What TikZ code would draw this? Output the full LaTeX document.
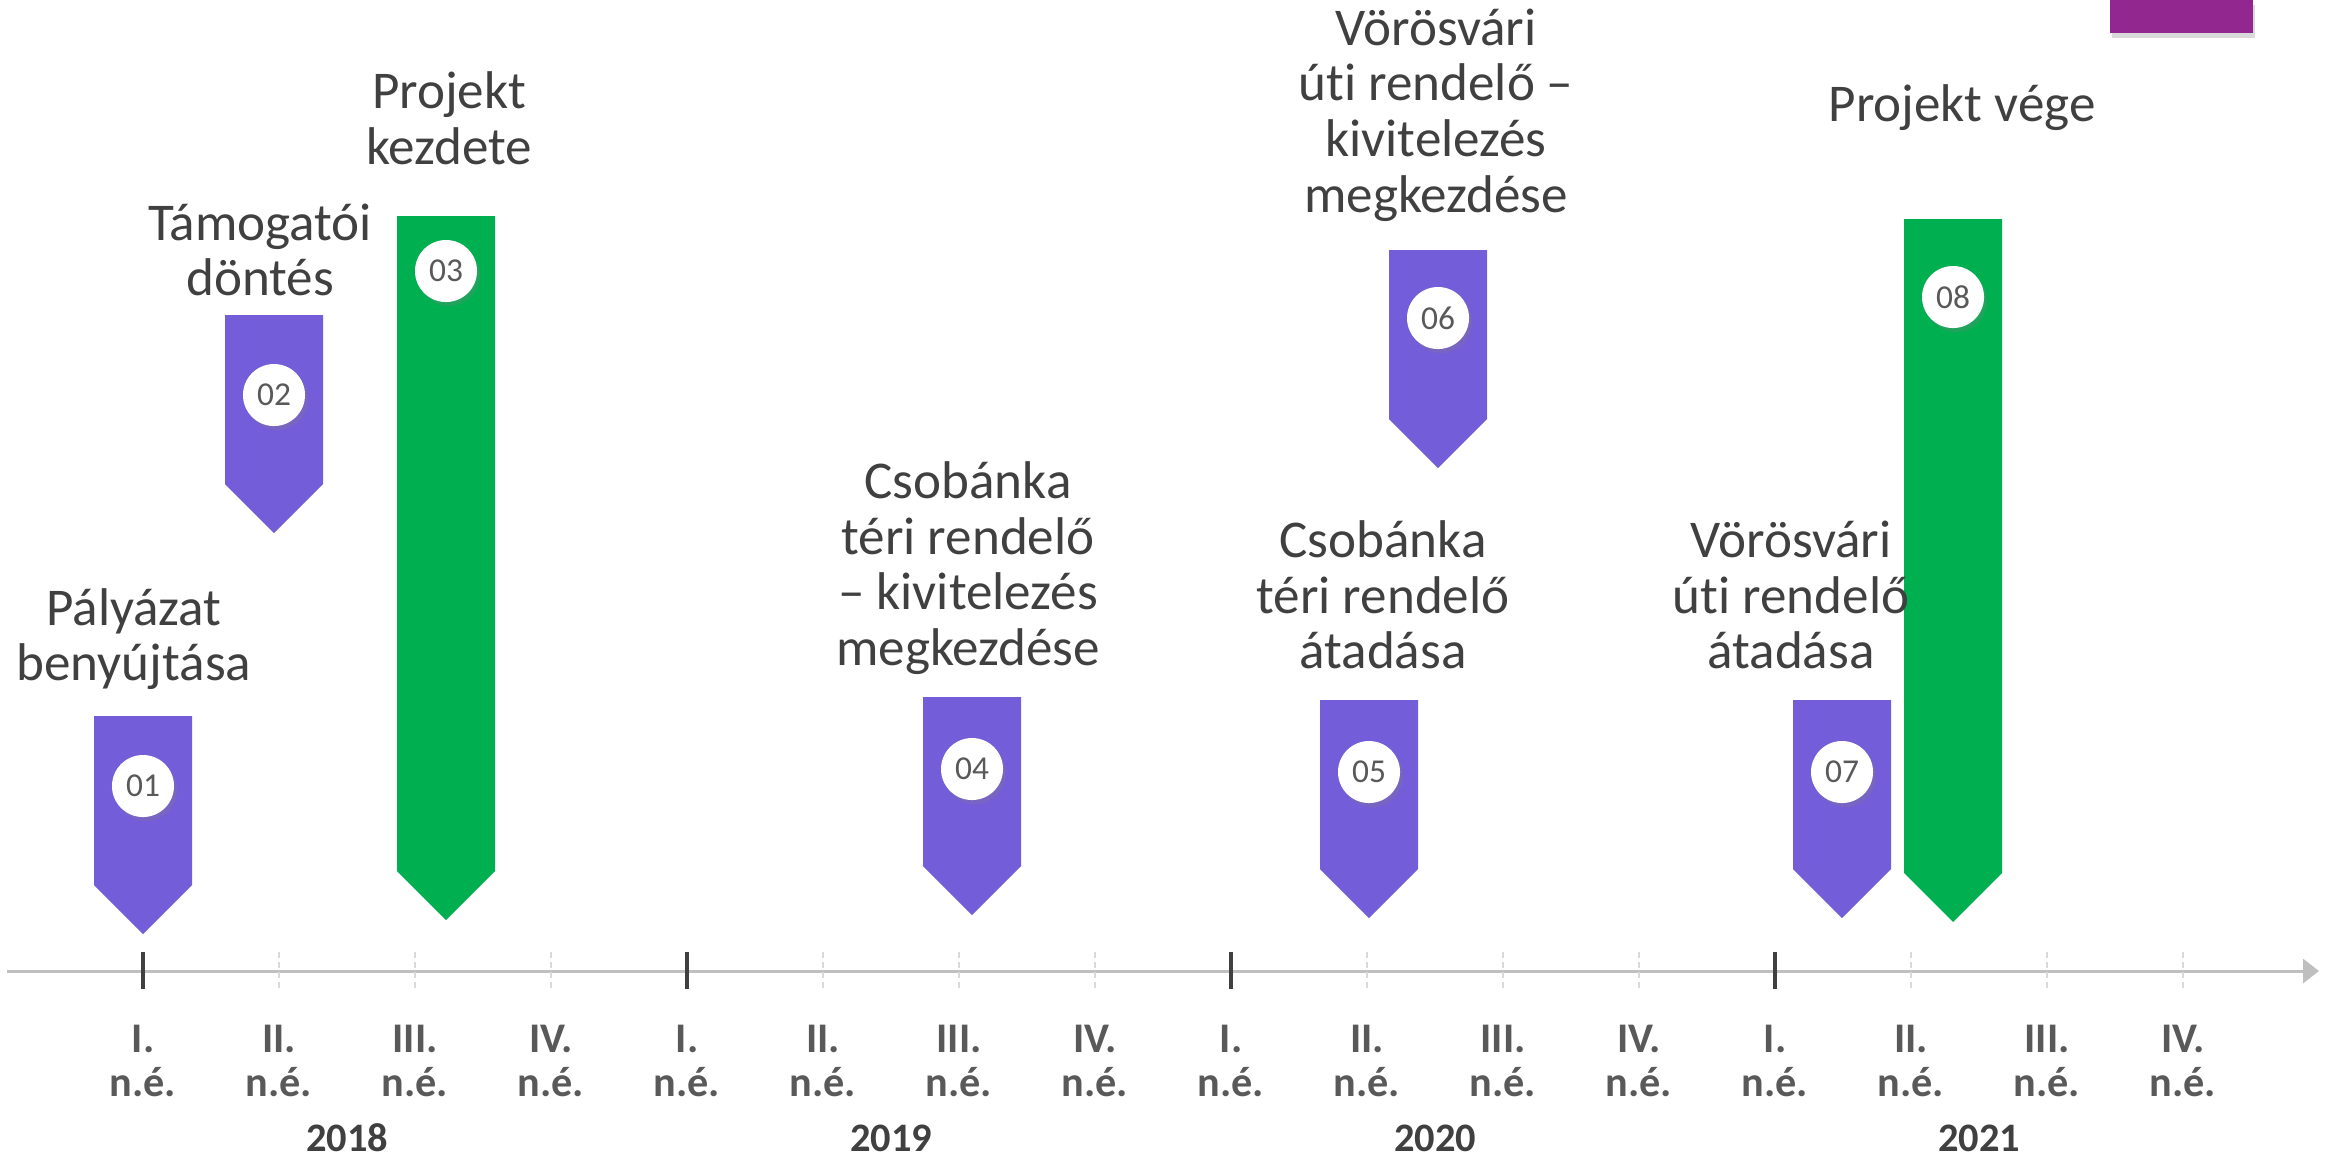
\documentclass[tikz,border=0pt]{standalone}
\usepackage{fontspec}
\setmainfont{Carlito}[Ligatures={CommonOff,ContextualOff}]
\usetikzlibrary{arrows.meta,shadows}
\definecolor{markviolet}{RGB}{116,93,216}
\definecolor{markgreen}{RGB}{0,176,80}
\definecolor{cornerplum}{RGB}{146,39,143}
\definecolor{labelgray}{RGB}{64,64,64}
\definecolor{quartergray}{RGB}{89,89,89}
\definecolor{axisgray}{RGB}{191,191,191}
\definecolor{minorgray}{RGB}{217,217,217}
\tikzset{
  eventlabel/.style={align=center,inner sep=0pt,text=labelgray,font=\fontsize{15.1}{15.8}\selectfont},
  numbadge/.style={circle,fill=white,inner sep=0pt,minimum size=0.62cm,text=quartergray,
    font=\fontsize{9.5}{10}\selectfont,
    drop shadow={opacity=0.25,shadow xshift=0.03cm,shadow yshift=-0.04cm}},
  quarterlabel/.style={align=center,inner sep=0pt,text=quartergray,font=\fontsize{12}{12.5}\selectfont\bfseries},
  yearlabel/.style={inner sep=0pt,text=labelgray,font=\fontsize{11.5}{13}\selectfont\bfseries},
  tickmajor/.style={draw=labelgray,line width=0.033cm},
  tickminor/.style={draw=minorgray,line width=0.02cm,dash pattern=on 0.06cm off 0.04cm},
}
\begin{document}
\begin{tikzpicture}[x=0.01cm,y=-0.01cm]
\useasboundingbox (0.0,0.0) rectangle (2331.0,1159.0);
% corner tab
\fill[cornerplum,drop shadow={opacity=0.3,shadow xshift=0.02cm,shadow yshift=-0.05cm}] (2110.0,0.0) rectangle (2253.0,33.0);
% axis
\draw[axisgray,line width=0.03cm,-{Triangle[length=0.16cm,width=0.24cm]}] (7.0,971.0) -- (2319.0,971.0);
\draw[tickmajor] (143.0,952.0) -- (143.0,989.0);
\draw[tickminor] (279.0,952.0) -- (279.0,989.0);
\draw[tickminor] (415.0,952.0) -- (415.0,989.0);
\draw[tickminor] (551.0,952.0) -- (551.0,989.0);
\draw[tickmajor] (687.0,952.0) -- (687.0,989.0);
\draw[tickminor] (823.0,952.0) -- (823.0,989.0);
\draw[tickminor] (959.0,952.0) -- (959.0,989.0);
\draw[tickminor] (1095.0,952.0) -- (1095.0,989.0);
\draw[tickmajor] (1231.0,952.0) -- (1231.0,989.0);
\draw[tickminor] (1367.0,952.0) -- (1367.0,989.0);
\draw[tickminor] (1503.0,952.0) -- (1503.0,989.0);
\draw[tickminor] (1639.0,952.0) -- (1639.0,989.0);
\draw[tickmajor] (1775.0,952.0) -- (1775.0,989.0);
\draw[tickminor] (1911.0,952.0) -- (1911.0,989.0);
\draw[tickminor] (2047.0,952.0) -- (2047.0,989.0);
\draw[tickminor] (2183.0,952.0) -- (2183.0,989.0);
% quarters
\node (q01) at (143.0,1061.0) [quarterlabel] {I.\\n.é.};
\node (q02) at (279.0,1061.0) [quarterlabel] {II.\\n.é.};
\node (q03) at (415.0,1061.0) [quarterlabel] {III.\\n.é.};
\node (q04) at (551.0,1061.0) [quarterlabel] {IV.\\n.é.};
\node (q05) at (687.0,1061.0) [quarterlabel] {I.\\n.é.};
\node (q06) at (823.0,1061.0) [quarterlabel] {II.\\n.é.};
\node (q07) at (959.0,1061.0) [quarterlabel] {III.\\n.é.};
\node (q08) at (1095.0,1061.0) [quarterlabel] {IV.\\n.é.};
\node (q09) at (1231.0,1061.0) [quarterlabel] {I.\\n.é.};
\node (q10) at (1367.0,1061.0) [quarterlabel] {II.\\n.é.};
\node (q11) at (1503.0,1061.0) [quarterlabel] {III.\\n.é.};
\node (q12) at (1639.0,1061.0) [quarterlabel] {IV.\\n.é.};
\node (q13) at (1775.0,1061.0) [quarterlabel] {I.\\n.é.};
\node (q14) at (1911.0,1061.0) [quarterlabel] {II.\\n.é.};
\node (q15) at (2047.0,1061.0) [quarterlabel] {III.\\n.é.};
\node (q16) at (2183.0,1061.0) [quarterlabel] {IV.\\n.é.};
\node (y2018) at (347.0,1138.0) [yearlabel] {2018};
\node (y2019) at (891.0,1138.0) [yearlabel] {2019};
\node (y2020) at (1435.0,1138.0) [yearlabel] {2020};
\node (y2021) at (1979.0,1138.0) [yearlabel] {2021};
% markers
\begin{scope}[markviolet]
\pgfpathmoveto{ \pgfqpointxy {94.0} {716.0}}
\pgfpathlineto{ \pgfqpointxy {192.0} {716.0}}
\pgfpathlineto{ \pgfqpointxy {192.0} {885.0}}
\pgfpathlineto{ \pgfqpointxy {143.0} {934.0}}
\pgfpathlineto{ \pgfqpointxy {94.0} {885.0}}
\pgfpathclose
\pgfusepath{ fill }
\end{scope}
\begin{scope}[markviolet]
\pgfpathmoveto{ \pgfqpointxy {225.0} {315.0}}
\pgfpathlineto{ \pgfqpointxy {323.0} {315.0}}
\pgfpathlineto{ \pgfqpointxy {323.0} {484.0}}
\pgfpathlineto{ \pgfqpointxy {274.0} {533.0}}
\pgfpathlineto{ \pgfqpointxy {225.0} {484.0}}
\pgfpathclose
\pgfusepath{ fill }
\end{scope}
\begin{scope}[markgreen]
\pgfpathmoveto{ \pgfqpointxy {397.0} {216.0}}
\pgfpathlineto{ \pgfqpointxy {495.0} {216.0}}
\pgfpathlineto{ \pgfqpointxy {495.0} {871.0}}
\pgfpathlineto{ \pgfqpointxy {446.0} {920.0}}
\pgfpathlineto{ \pgfqpointxy {397.0} {871.0}}
\pgfpathclose
\pgfusepath{ fill }
\end{scope}
\begin{scope}[markviolet]
\pgfpathmoveto{ \pgfqpointxy {923.0} {697.0}}
\pgfpathlineto{ \pgfqpointxy {1021.0} {697.0}}
\pgfpathlineto{ \pgfqpointxy {1021.0} {866.0}}
\pgfpathlineto{ \pgfqpointxy {972.0} {915.0}}
\pgfpathlineto{ \pgfqpointxy {923.0} {866.0}}
\pgfpathclose
\pgfusepath{ fill }
\end{scope}
\begin{scope}[markviolet]
\pgfpathmoveto{ \pgfqpointxy {1320.0} {700.0}}
\pgfpathlineto{ \pgfqpointxy {1418.0} {700.0}}
\pgfpathlineto{ \pgfqpointxy {1418.0} {869.0}}
\pgfpathlineto{ \pgfqpointxy {1369.0} {918.0}}
\pgfpathlineto{ \pgfqpointxy {1320.0} {869.0}}
\pgfpathclose
\pgfusepath{ fill }
\end{scope}
\begin{scope}[markviolet]
\pgfpathmoveto{ \pgfqpointxy {1389.0} {250.0}}
\pgfpathlineto{ \pgfqpointxy {1487.0} {250.0}}
\pgfpathlineto{ \pgfqpointxy {1487.0} {419.0}}
\pgfpathlineto{ \pgfqpointxy {1438.0} {468.0}}
\pgfpathlineto{ \pgfqpointxy {1389.0} {419.0}}
\pgfpathclose
\pgfusepath{ fill }
\end{scope}
\begin{scope}[markviolet]
\pgfpathmoveto{ \pgfqpointxy {1793.0} {700.0}}
\pgfpathlineto{ \pgfqpointxy {1891.0} {700.0}}
\pgfpathlineto{ \pgfqpointxy {1891.0} {869.0}}
\pgfpathlineto{ \pgfqpointxy {1842.0} {918.0}}
\pgfpathlineto{ \pgfqpointxy {1793.0} {869.0}}
\pgfpathclose
\pgfusepath{ fill }
\end{scope}
\begin{scope}[markgreen]
\pgfpathmoveto{ \pgfqpointxy {1904.0} {219.0}}
\pgfpathlineto{ \pgfqpointxy {2002.0} {219.0}}
\pgfpathlineto{ \pgfqpointxy {2002.0} {873.0}}
\pgfpathlineto{ \pgfqpointxy {1953.0} {922.0}}
\pgfpathlineto{ \pgfqpointxy {1904.0} {873.0}}
\pgfpathclose
\pgfusepath{ fill }
\end{scope}
% badges
\node (b01) at (143.0,786.0) [numbadge] {01};
\node (b02) at (274.0,395.0) [numbadge] {02};
\node (b03) at (446.0,271.0) [numbadge] {03};
\node (b04) at (972.0,769.0) [numbadge] {04};
\node (b05) at (1369.0,772.0) [numbadge] {05};
\node (b06) at (1438.0,318.0) [numbadge] {06};
\node (b07) at (1842.0,772.0) [numbadge] {07};
\node (b08) at (1953.0,297.0) [numbadge] {08};
% event texts
\node (e01) at (134.0,639.0) [eventlabel] {Pályázat\\benyújtása};
\node (e02) at (260.0,250.0) [eventlabel] {Támogatói\\döntés};
\node (e03) at (449.0,118.0) [eventlabel] {Projekt\\kezdete};
\node (e04) at (968.0,568.0) [eventlabel] {Csobánka\\téri rendelő\\– kivitelezés\\megkezdése};
\node (e05) at (1383.0,595.0) [eventlabel] {Csobánka\\téri rendelő\\átadása};
\node (e06) at (1436.0,115.0) [eventlabel] {Vörösvári\\úti rendelő –\\kivitelezés\\megkezdése};
\node (e07) at (1791.0,595.0) [eventlabel] {Vörösvári\\úti rendelő\\átadása};
\node (e08) at (1962.0,108.0) [eventlabel] {Projekt vége};
\end{tikzpicture}
\end{document}
